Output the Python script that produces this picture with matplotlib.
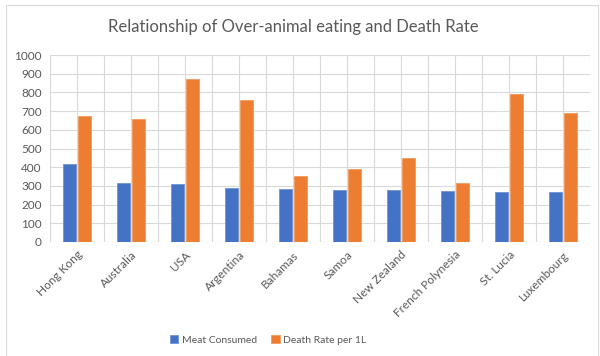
import numpy as np
import matplotlib.pyplot as plt
from matplotlib.patches import Rectangle

# datos
paises = ["Hong Kong", "Australia", "USA", "Argentina", "Bahamas", "Samoa",
          "New Zealand", "French Polynesia", "St. Lucia", "Luxembourg"]
carne = [418, 317, 311, 291, 282, 277, 277, 272, 267, 267]
muertes = [676, 657, 870, 758, 351, 389, 449, 315, 790, 691]

azul = "#4472C4"
naranja = "#ED7D31"
gris = "#595959"

plt.rcParams["font.family"] = ["Lato", "DejaVu Sans"]

fig = plt.figure(figsize=(6.0, 3.56), dpi=100)
ax = fig.add_axes([50/600, 1 - 242/356, 540/600, 187/356])

x = np.arange(len(paises))
w = 0.24
ax.bar(x - 0.145, carne, w, color=azul, edgecolor="#6f93d3", linewidth=0.6,
       label="Meat Consumed", zorder=3)
ax.bar(x + 0.145, muertes, w, color=naranja, edgecolor="#f29a5c", linewidth=0.6,
       label="Death Rate per 1L", zorder=3)

ax.set_xlim(-0.5, len(paises) - 0.5)
ax.set_ylim(0, 1000)
ax.set_yticks(np.arange(0, 1001, 100))

# lineas de cuadricula horizontales y verticales (bordes y centros)
ax.yaxis.grid(True, color="#d9d9d9", linewidth=0.8, zorder=0)
for xv in np.arange(-0.5, len(paises), 0.5):
    ax.axvline(xv, color="#d9d9d9", linewidth=0.8, zorder=0)

ax.set_xticks(x)
ax.set_xticklabels(paises, rotation=45, ha="right", rotation_mode="anchor",
                   fontsize=8.5, color=gris)
ax.tick_params(axis="y", labelsize=8.5, labelcolor=gris, length=0, pad=6)
ax.tick_params(axis="x", length=0, pad=5)
for s in ax.spines.values():
    s.set_visible(False)

fig.text(293/600, 1 - 27/356, "Relationship of Over-animal eating and Death Rate",
         ha="center", va="center", fontsize=12, color=gris)

fig.legend(loc="center", bbox_to_anchor=(268/600, 1 - 340/356), ncol=2,
           frameon=False, fontsize=7.5, handlelength=0.8, handleheight=0.8,
           handletextpad=0.3, columnspacing=1.4, labelcolor=gris)

fig.patches.append(Rectangle((6/600, -0.1), 592/600, 1.1 - 5/356,
                             transform=fig.transFigure, fill=False,
                             edgecolor="#d9d9d9", linewidth=0.8))

fig.savefig("out.png", dpi=100)
